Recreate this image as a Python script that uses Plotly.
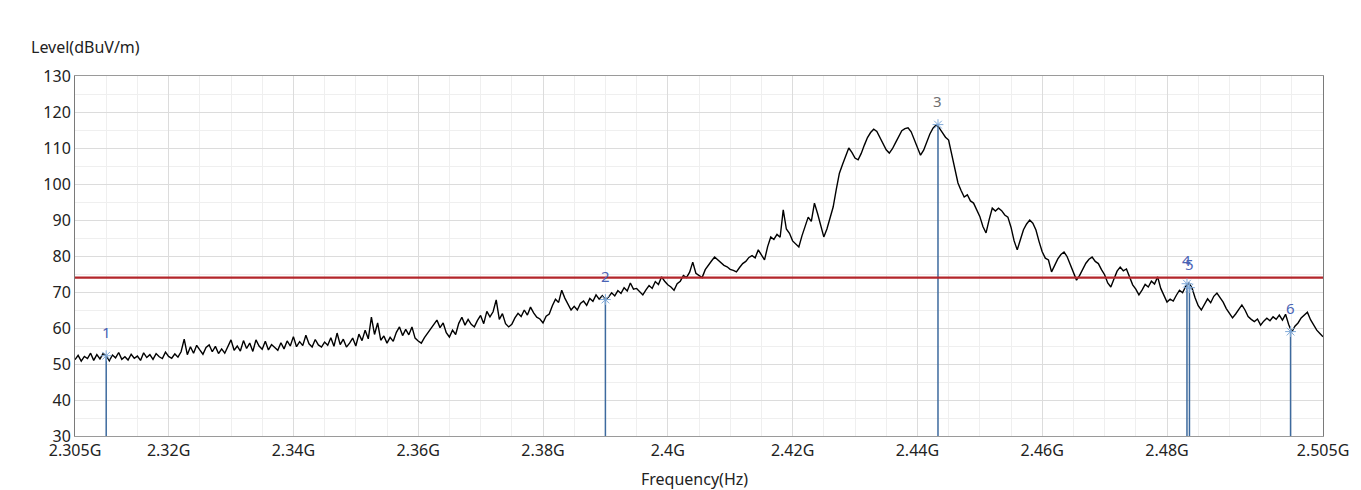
import plotly.graph_objects as go

# sweep: 2.305 GHz .. 2.505 GHz, 0.5 MHz step
f_start, f_step = 2.305, 0.0005

level = [
    51.2, 52.4, 50.8, 52.1, 51.5, 53.0, 51.0, 52.6, 51.4, 52.9, 52.3, 50.9, 52.5, 51.7, 53.2, 51.3, 52.0, 51.1, 52.7, 51.6,
    52.2, 51.0, 53.1, 51.8, 52.6, 51.3, 52.9, 52.0, 51.5, 53.3, 52.1, 51.6, 52.8, 51.9, 53.4, 56.9, 52.6, 54.8, 53.0, 55.2,
    53.9, 52.7, 54.6, 55.3, 53.4, 54.9, 52.9, 54.2, 53.0, 55.1, 56.7, 53.8, 55.0, 53.6, 56.5, 54.3, 55.8, 53.5, 56.7, 55.0,
    54.1, 56.3, 53.9, 55.4, 54.6, 53.8, 55.9, 54.2, 56.4, 55.0, 57.6, 54.8, 56.2, 55.1, 58.0, 55.6, 54.7, 56.8, 55.3, 54.7,
    56.1, 55.2, 57.3, 54.9, 58.6, 55.4, 56.9, 54.7, 55.8, 57.2, 55.0, 58.3, 56.5, 59.4, 57.0, 63.0, 58.2, 61.4, 56.6, 57.8,
    55.8, 57.4, 56.3, 58.8, 60.3, 57.9, 59.6, 58.1, 60.3, 57.2, 56.4, 55.8, 57.3, 58.5, 59.8, 61.0, 62.2, 60.1, 61.4, 58.7,
    57.5, 59.4, 58.2, 61.3, 63.0, 60.8, 62.4, 61.0, 60.3, 62.1, 63.5, 61.2, 64.6, 63.1, 64.5, 67.8, 62.4, 64.0, 61.2, 60.3,
    61.0, 62.8, 64.1, 63.2, 65.0, 63.6, 65.8, 64.2, 63.0, 62.5, 61.4, 63.3, 63.9, 66.2, 68.0, 67.1, 70.5, 68.3, 66.4, 65.0,
    66.0, 65.0, 66.8, 67.5, 66.3, 68.2, 67.4, 69.2, 68.0, 69.0, 67.9, 68.6, 69.8, 68.9, 70.4, 69.6, 71.2, 70.3, 72.5, 70.8,
    71.0, 70.1, 69.2, 70.6, 71.8, 71.0, 72.9, 72.1, 74.2, 73.0, 72.0, 71.4, 70.5, 72.3, 73.0, 74.6, 74.0, 75.5, 78.3, 75.2,
    74.5, 74.0, 76.2, 77.5, 78.6, 79.7, 78.9, 78.1, 77.4, 77.0, 76.3, 76.0, 75.6, 76.8, 77.9, 78.5, 79.6, 80.1, 79.5, 81.7,
    80.4, 78.9, 82.6, 85.3, 84.6, 86.0, 85.2, 92.8, 87.5, 86.3, 84.2, 83.4, 82.5, 85.6, 88.3, 90.8, 89.6, 94.7, 91.8, 88.2,
    85.3, 87.5, 90.8, 93.6, 98.5, 103.0, 105.4, 108.0, 110.0, 108.8, 107.2, 106.7, 108.5, 110.8, 112.9, 114.3, 115.2, 114.6, 113.0, 111.2,
    109.5, 108.6, 109.8, 111.5, 113.4, 114.8, 115.4, 115.6, 114.5, 112.4, 110.2, 108.0, 109.4, 111.8, 113.9, 115.5, 116.4, 115.6, 114.3, 113.0,
    112.2, 108.0, 104.1, 100.3, 98.2, 96.4, 97.0, 95.3, 94.7, 92.8, 91.0, 88.2, 86.4, 90.1, 93.3, 92.5, 93.3, 92.6, 91.4, 90.8,
    88.0, 84.2, 81.7, 84.5, 87.3, 88.9, 90.0, 89.1, 87.2, 84.0, 81.2, 79.4, 78.9, 75.6, 77.3, 79.2, 80.4, 81.1, 79.8, 77.5,
    75.2, 73.3, 74.6, 76.4, 78.0, 79.1, 79.7, 78.5, 77.9, 76.2, 74.8, 72.5, 71.4, 73.6, 75.8, 76.9, 75.9, 76.4, 74.1, 72.0,
    70.8, 69.2, 70.5, 72.1, 71.4, 73.0, 72.2, 74.2, 71.0, 69.3, 67.2, 68.0, 67.5, 69.1, 70.5, 69.8, 71.6, 72.5, 71.2, 68.4,
    66.2, 65.0, 66.4, 68.1, 67.0, 68.8, 69.7, 68.3, 67.2, 65.4, 64.0, 62.8, 63.9, 65.1, 66.4, 65.0, 63.2, 62.4, 61.8, 62.5,
    60.8, 61.9, 62.7, 62.0, 63.1, 62.4, 63.6, 62.2, 63.8, 61.0, 58.9, 60.5, 61.4, 62.8, 63.5, 64.4, 62.3, 61.0, 59.4, 58.5,
    57.6,
]
freq = [round(f_start + f_step * i, 4) for i in range(len(level))]

limit_level = 74.0

marker_ids = ["1", "2", "3", "4", "5", "6"]
marker_freq = [2.3100, 2.3900, 2.4433, 2.4832, 2.4836, 2.4998]
marker_level = [52.3, 67.9, 116.5, 72.3, 71.2, 59.0]

tick_freq = [2.305, 2.32, 2.34, 2.36, 2.38, 2.40, 2.42, 2.44, 2.46, 2.48, 2.505]
tick_text = ["2.305G", "2.32G", "2.34G", "2.36G", "2.38G", "2.4G", "2.42G", "2.44G", "2.46G", "2.48G", "2.505G"]
y_ticks = [30, 40, 50, 60, 70, 80, 90, 100, 110, 120, 130]

FONT = "Noto Sans"
fig = go.Figure()

# marker drop lines
for mf, ml in zip(marker_freq, marker_level):
    fig.add_trace(go.Scatter(x=[mf, mf], y=[30, ml], mode="lines",
                             line=dict(color="#3d6a9e", width=1.5), showlegend=False, hoverinfo="skip"))

fig.add_trace(go.Scatter(x=freq, y=level, mode="lines", line=dict(color="black", width=1.4),
                         showlegend=False, name="Level"))

fig.add_trace(go.Scatter(x=[freq[0], freq[-1]], y=[limit_level, limit_level], mode="lines",
                         line=dict(color="#b3262b", width=2.2), showlegend=False, name="Limit"))

fig.add_trace(go.Scatter(x=marker_freq, y=marker_level, mode="markers",
                         marker=dict(symbol="asterisk-open", size=9, color="#7fa9d8", line=dict(color="#7fa9d8", width=1)),
                         showlegend=False))

for mid, mf, ml in zip(marker_ids, marker_freq, marker_level):
    fig.add_annotation(x=mf, y=ml, text=mid, showarrow=False, yshift=24,
                       font=dict(family=FONT, size=15, color="#707070" if mid == "3" else "#4a63b5"))

fig.add_annotation(x=-0.037, y=1.08, xref="paper", yref="paper", text="Level(dBuV/m)", showarrow=False,
                   xanchor="left", yanchor="middle", font=dict(family=FONT, size=16, color="#222"))
fig.add_annotation(x=0.496, y=-0.12, xref="paper", yref="paper", text="Frequency(Hz)", showarrow=False,
                   xanchor="center", yanchor="middle", font=dict(family=FONT, size=16, color="#222"))

fig.update_xaxes(range=[2.305, 2.505], tickvals=tick_freq, ticktext=tick_text,
                 showgrid=True, gridcolor="#dcdcdc", gridwidth=1,
                 minor=dict(dtick=0.005, tick0=2.305, showgrid=True, gridcolor="#efefef", gridwidth=1),
                 showline=True, linecolor="#9a9a9a", mirror=True, ticks="", zeroline=False,
                 tickfont=dict(family=FONT, size=16, color="#222"))
fig.update_yaxes(range=[30, 130], tickvals=y_ticks, showgrid=True, gridcolor="#dcdcdc", gridwidth=1,
                 minor=dict(dtick=5, showgrid=True, gridcolor="#efefef", gridwidth=1),
                 showline=True, linecolor="#7a7a7a", mirror=True, ticks="", zeroline=False,
                 tickfont=dict(family=FONT, size=16, color="#222"))

fig.update_layout(width=1353, height=482, margin=dict(l=67, r=38, t=68, b=54),
                  paper_bgcolor="white", plot_bgcolor="white")

fig.write_html("out.html")
